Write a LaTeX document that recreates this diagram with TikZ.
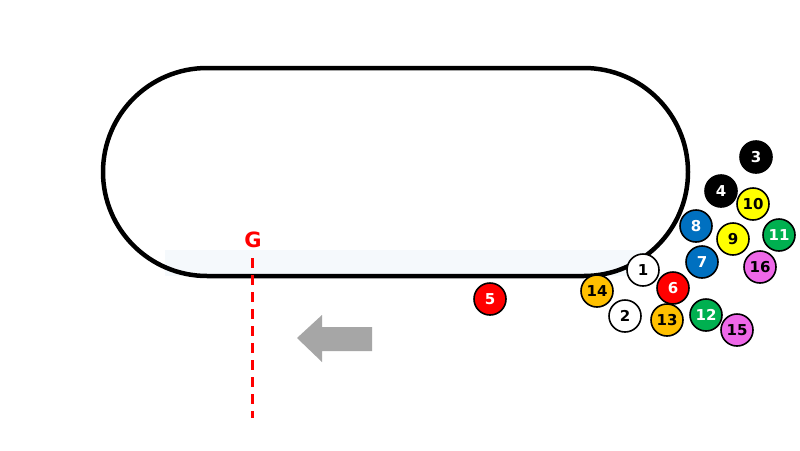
\documentclass[tikz,border=0pt]{standalone}
\usepackage{fontspec}
\setmainfont{DejaVu Sans}
\definecolor{cblue}{RGB}{0,112,192}
\definecolor{cgreen}{RGB}{0,176,80}
\definecolor{cyellow}{RGB}{255,255,0}
\definecolor{corange}{RGB}{255,192,0}
\definecolor{cred}{RGB}{255,0,0}
\definecolor{cpink}{RGB}{238,104,232}
\definecolor{cband}{RGB}{245,249,252}
\definecolor{carrow}{RGB}{166,166,166}
\begin{document}
\begin{tikzpicture}[x=1pt,y=-1pt,
  horse/.style={circle,draw=black,line width=1.6pt,minimum size=32pt,inner sep=0pt,font=\bfseries\fontsize{15}{15}\selectfont},
  dk/.style={horse,fill=#1,text=white},
  lt/.style={horse,fill=#1,text=black}]
\useasboundingbox (0,0) rectangle (800,450);
\fill[white] (0,0) rectangle (800,450);
\fill[cband] (165,250) rectangle (650,276);
\draw[line width=4.5pt,rounded corners=104pt] (103,68) rectangle (688,276);
\node[text=cred,font=\bfseries\fontsize{21}{21}\selectfont] (G) at (253,240) {G};
\coordinate (gtop) at (252,258);
\coordinate (gbot) at (252,418);
\draw[cred,line width=3pt,dash pattern=on 10pt off 7pt] (gtop) -- (gbot);
\fill[carrow] (297,338) -- (322,315) -- (322,327) -- (372,327) -- (372,351) -- (322,351) -- (322,362) -- cycle;
\node[dk=black] (h3) at (756,157) {3};
\node[dk=black] (h4) at (721,191) {4};
\node[lt=cyellow] (h10) at (753,204) {10};
\node[dk=cblue] (h8) at (696,226) {8};
\node[lt=cyellow] (h9) at (733,239) {9};
\node[dk=cgreen] (h11) at (779,235) {11};
\node[dk=cblue] (h7) at (702,262) {7};
\node[lt=cpink] (h16) at (760,267) {16};
\node[lt=white] (h1) at (643,270) {1};
\node[dk=cred] (h6) at (673,288) {6};
\node[lt=corange] (h14) at (597,291) {14};
\node[dk=cred] (h5) at (490,299) {5};
\node[lt=white] (h2) at (625,316) {2};
\node[lt=corange] (h13) at (667,320) {13};
\node[dk=cgreen] (h12) at (706,315) {12};
\node[lt=cpink] (h15) at (737,330) {15};
\end{tikzpicture}
\end{document}
